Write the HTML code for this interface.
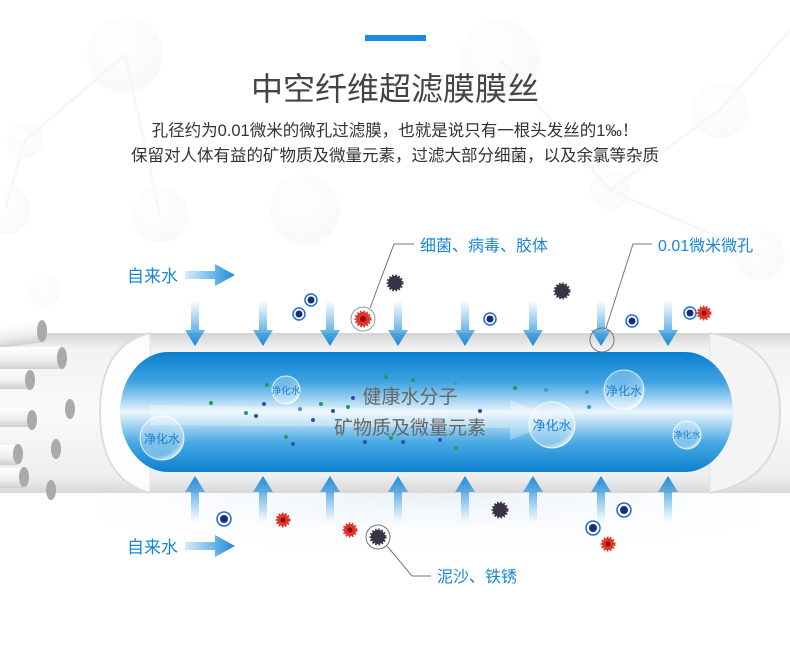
<!DOCTYPE html>
<html><head><meta charset="utf-8"><style>
html,body{margin:0;padding:0;background:#fff;}
svg{display:block;}
text{font-family:"Liberation Sans","Noto Sans CJK SC",sans-serif;}
</style></head><body>
<svg width="790" height="659" viewBox="0 0 790 659" xmlns="http://www.w3.org/2000/svg">
<defs>
<linearGradient id="band" x1="0" y1="0" x2="0" y2="1">
<stop offset="0" stop-color="#d4d4d4"/><stop offset="0.1" stop-color="#f2f2f2"/><stop offset="0.5" stop-color="#fafafa"/><stop offset="0.9" stop-color="#eeeeee"/><stop offset="1" stop-color="#d8d8d8"/>
</linearGradient>
<linearGradient id="blue" x1="0" y1="0" x2="0" y2="1">
<stop offset="0" stop-color="#0a7fcf"/><stop offset="0.25" stop-color="#3fa3e2"/><stop offset="0.5" stop-color="#eaf5fc"/><stop offset="0.75" stop-color="#4aaae4"/><stop offset="1" stop-color="#0d80cf"/>
</linearGradient>
<linearGradient id="arrD" x1="0" y1="0" x2="0" y2="1">
<stop offset="0" stop-color="#2b9be0" stop-opacity="0"/><stop offset="1" stop-color="#1a8ad8"/>
</linearGradient>
<linearGradient id="arrU" x1="0" y1="1" x2="0" y2="0">
<stop offset="0" stop-color="#2b9be0" stop-opacity="0"/><stop offset="1" stop-color="#1a8ad8"/>
</linearGradient>
<linearGradient id="arrR" x1="0" y1="0" x2="1" y2="0">
<stop offset="0" stop-color="#2b9be0" stop-opacity="0.2"/><stop offset="1" stop-color="#1a8ad8"/>
</linearGradient>
<radialGradient id="bub" cx="0.4" cy="0.35" r="0.7">
<stop offset="0" stop-color="#fff" stop-opacity="0.2"/><stop offset="0.8" stop-color="#fff" stop-opacity="0.35"/><stop offset="1" stop-color="#fff" stop-opacity="0.9"/>
</radialGradient>
<radialGradient id="bg" cx="0.4" cy="0.35" r="0.7">
<stop offset="0" stop-color="#fff"/><stop offset="1" stop-color="#ececec"/>
</radialGradient>
<linearGradient id="tubeW" x1="0" y1="0" x2="0" y2="1">
<stop offset="0" stop-color="#fff"/><stop offset="0.6" stop-color="#eee"/><stop offset="1" stop-color="#cfcfcf"/>
</linearGradient>
<radialGradient id="fade" cx="0.5" cy="0" r="0.7">
<stop offset="0" stop-color="#e8f1f8"/><stop offset="1" stop-color="#fff" stop-opacity="0"/>
</radialGradient>
</defs>

<!-- background bubbles -->
<g opacity="0.3">
<circle cx="125" cy="55" r="38" fill="url(#bg)"/>
<circle cx="25" cy="140" r="18" fill="url(#bg)"/>
<circle cx="5" cy="210" r="25" fill="url(#bg)"/>
<circle cx="160" cy="215" r="28" fill="url(#bg)"/>
<circle cx="305" cy="210" r="35" fill="url(#bg)"/>
<circle cx="500" cy="60" r="40" fill="url(#bg)"/>
<circle cx="720" cy="110" r="28" fill="url(#bg)"/>
<circle cx="610" cy="190" r="20" fill="url(#bg)"/>
<circle cx="760" cy="255" r="25" fill="url(#bg)"/>
<circle cx="45" cy="290" r="16" fill="url(#bg)"/>
<path d="M25 140 L125 55 M5 210 L25 140 M160 215 L125 55 M500 60 L610 190 M610 190 L720 110 M720 110 L790 30 M610 190 L760 255" stroke="#e8e8e8" stroke-width="3" fill="none"/>
</g>

<rect x="365" y="35" width="61" height="6" fill="#1e88e5"/>
<text x="395" y="100" font-size="32" fill="#444" text-anchor="middle">中空纤维超滤膜膜丝</text>
<text x="395" y="136" font-size="16.5" fill="#333" text-anchor="middle">孔径约为0.01微米的微孔过滤膜，也就是说只有一根头发丝的1‰！</text>
<text x="395" y="161" font-size="16.5" fill="#333" text-anchor="middle">保留对人体有益的矿物质及微量元素，过滤大部分细菌，以及余氯等杂质</text>

<!-- reflection below -->
<rect x="100" y="493" width="660" height="100" fill="url(#fade)"/>

<!-- outer band -->
<rect x="0" y="333" width="790" height="160" fill="url(#band)"/>
<path d="M150 333 Q100 345 100 412 Q100 480 150 493 Z" fill="#fff" opacity="0.85"/>
<path d="M150 333 Q100 345 100 412 Q100 480 150 493" fill="none" stroke="#ddd" stroke-width="2"/>
<path d="M710 333 Q780 345 780 412 Q780 480 710 493" fill="#f4f4f4" stroke="#ddd" stroke-width="2"/>
<line x1="150" y1="333" x2="150" y2="493" stroke="#e4e4e4"/>
<line x1="710" y1="333" x2="710" y2="493" stroke="#e4e4e4"/>
<!-- inner blue -->
<rect x="120" y="352" width="613" height="120" rx="48" ry="60" fill="url(#blue)"/>
<polygon points="150,405 510,410 510,400 560,420 510,440 510,428 150,425" fill="#fff" opacity="0.3"/>

<!-- left tubes -->
<g>
<rect x="-10" y="320" width="52" height="22" fill="url(#tubeW)" transform="rotate(-8 42 331)"/>
<ellipse cx="42" cy="331" rx="5" ry="11" fill="#aaa"/>
<rect x="-10" y="347" width="72" height="22" fill="url(#tubeW)"/><ellipse cx="62" cy="358" rx="5" ry="11" fill="#aaa"/>
<rect x="-10" y="369" width="40" height="20" fill="url(#tubeW)"/><ellipse cx="30" cy="380" rx="5" ry="10" fill="#aaa"/>
<ellipse cx="70" cy="409" rx="5" ry="10" fill="#aaa"/>
<rect x="-10" y="407" width="42" height="20" fill="url(#tubeW)"/><ellipse cx="32" cy="420" rx="5" ry="10" fill="#aaa"/>
<ellipse cx="56" cy="449" rx="5" ry="10" fill="#aaa"/>
<rect x="-10" y="445" width="28" height="20" fill="url(#tubeW)"/><ellipse cx="18" cy="454" rx="5" ry="10" fill="#aaa"/>
<rect x="-10" y="468" width="34" height="20" fill="url(#tubeW)"/><ellipse cx="24" cy="477" rx="5" ry="10" fill="#aaa"/>
<ellipse cx="51" cy="490" rx="5" ry="10" fill="#aaa"/>
</g>

<!-- arrows -->
<g fill="url(#arrD)">
<path d="M191 300h8v30h6l-10 16-10-16h6z"/>
<path d="M259 300h8v30h6l-10 16-10-16h6z"/>
<path d="M326 300h8v30h6l-10 16-10-16h6z"/>
<path d="M394 300h8v30h6l-10 16-10-16h6z"/>
<path d="M461 300h8v30h6l-10 16-10-16h6z"/>
<path d="M529 300h8v30h6l-10 16-10-16h6z"/>
<path d="M597 300h8v30h6l-10 16-10-16h6z"/>
<path d="M664 300h8v30h6l-10 16-10-16h6z"/>
</g>
<g fill="url(#arrU)">
<path d="M191 522v-30h-6l10-16 10 16h-6v30z"/>
<path d="M259 522v-30h-6l10-16 10 16h-6v30z"/>
<path d="M326 522v-30h-6l10-16 10 16h-6v30z"/>
<path d="M394 522v-30h-6l10-16 10 16h-6v30z"/>
<path d="M461 522v-30h-6l10-16 10 16h-6v30z"/>
<path d="M529 522v-30h-6l10-16 10 16h-6v30z"/>
<path d="M597 522v-30h-6l10-16 10 16h-6v30z"/>
<path d="M664 522v-30h-6l10-16 10 16h-6v30z"/>
</g>

<!-- 自来水 -->
<text x="127" y="282" font-size="17" fill="#1a86d6">自来水</text>
<path d="M185 271h30v-7l20 11-20 11v-7h-30z" fill="url(#arrR)"/>
<text x="127" y="553" font-size="17" fill="#1a86d6">自来水</text>
<path d="M185 542h30v-7l20 11-20 11v-7h-30z" fill="url(#arrR)"/>

<!-- labels/leaders -->
<text x="420" y="251" font-size="16" fill="#1a86d6">细菌、病毒、胶体</text>
<polyline points="414,244 394,244 370,308" fill="none" stroke="#777" stroke-width="1"/>
<text x="658" y="251" font-size="16" fill="#1a86d6">0.01微米微孔</text>
<polyline points="652,244 633,244 606,328" fill="none" stroke="#777" stroke-width="1"/>
<circle cx="602" cy="340" r="12" fill="none" stroke="#777" stroke-width="1"/>
<text x="437" y="582" font-size="16" fill="#1a86d6">泥沙、铁锈</text>
<polyline points="431,576 412,576 387,546" fill="none" stroke="#777" stroke-width="1"/>
<circle cx="378" cy="537" r="12" fill="none" stroke="#777" stroke-width="1"/>
<circle cx="363" cy="319" r="12" fill="none" stroke="#999" stroke-width="1"/>

<!-- dotted particles -->
<g fill="#fff" stroke="#1a6fd0" stroke-width="1.5">
<circle cx="299" cy="314" r="6"/><circle cx="311" cy="300" r="6"/><circle cx="490" cy="319" r="6"/><circle cx="632" cy="321" r="6"/><circle cx="690" cy="313" r="6"/><circle cx="224" cy="519" r="7"/><circle cx="593" cy="528" r="7"/><circle cx="624" cy="510" r="7"/>
</g>
<g fill="#1d2a7a">
<circle cx="299" cy="314" r="3.5"/><circle cx="311" cy="300" r="3.5"/><circle cx="490" cy="319" r="3.5"/><circle cx="632" cy="321" r="3.5"/><circle cx="690" cy="313" r="3.5"/><circle cx="224" cy="519" r="4"/><circle cx="593" cy="528" r="4"/><circle cx="624" cy="510" r="4"/>
</g>
<g fill="#3a3346" stroke="#3a3346" stroke-width="3" stroke-dasharray="1.5 1.5">
<circle cx="395" cy="283" r="7"/><circle cx="562" cy="291" r="7"/><circle cx="500" cy="510" r="7"/><circle cx="378" cy="537" r="7"/>
</g>
<g fill="#e0352a" stroke="#e0352a" stroke-width="3" stroke-dasharray="1.5 1.5">
<circle cx="363" cy="319" r="7"/><circle cx="704" cy="313" r="6"/><circle cx="283" cy="520" r="6"/><circle cx="350" cy="530" r="6"/><circle cx="608" cy="544" r="6"/>
</g>
<g fill="#8b0d0d"><circle cx="363" cy="319" r="3"/><circle cx="704" cy="313" r="2.5"/><circle cx="283" cy="520" r="2.5"/><circle cx="350" cy="530" r="2.5"/><circle cx="608" cy="544" r="2.5"/></g>

<!-- small dots in tube -->
<g fill="#1aa05a"><circle cx="211" cy="403" r="2"/><circle cx="246" cy="413" r="2"/><circle cx="267" cy="385" r="2"/><circle cx="321" cy="404" r="2"/><circle cx="348" cy="407" r="2"/><circle cx="386" cy="377" r="2"/><circle cx="413" cy="380" r="2"/><circle cx="391" cy="438" r="2"/><circle cx="286" cy="437" r="2"/><circle cx="456" cy="448" r="2"/><circle cx="515" cy="388" r="2"/></g>
<g fill="#2c4fb0"><circle cx="264" cy="404" r="2"/><circle cx="256" cy="416" r="2"/><circle cx="313" cy="420" r="2"/><circle cx="333" cy="411" r="2"/><circle cx="353" cy="398" r="2"/><circle cx="365" cy="442" r="2"/><circle cx="403" cy="442" r="2"/><circle cx="440" cy="440" r="2"/><circle cx="480" cy="411" r="2"/><circle cx="293" cy="444" r="2"/></g>
<g fill="#3c95dc"><circle cx="300" cy="409" r="2"/><circle cx="391" cy="378" r="2"/><circle cx="455" cy="383" r="2"/><circle cx="546" cy="390" r="2"/><circle cx="589" cy="407" r="2"/><circle cx="587" cy="392" r="2"/></g>

<text x="410" y="403" font-size="19" fill="#666" text-anchor="middle">健康水分子</text>
<text x="410" y="434" font-size="19" fill="#666" text-anchor="middle">矿物质及微量元素</text>

<g stroke="#fff" stroke-opacity="0.8" stroke-width="1">
<circle cx="162" cy="438" r="22" fill="url(#bub)"/>
<circle cx="286" cy="390" r="14" fill="url(#bub)"/>
<circle cx="552" cy="425" r="23" fill="url(#bub)"/>
<circle cx="624" cy="390" r="20" fill="url(#bub)"/>
<circle cx="687" cy="435" r="14" fill="url(#bub)"/>
</g>
<g fill="#1a7fd0" text-anchor="middle">
<text x="162" y="443" font-size="12">净化水</text>
<text x="286" y="394" font-size="9.5">净化水</text>
<text x="552" y="430" font-size="13">净化水</text>
<text x="624" y="395" font-size="12">净化水</text>
<text x="687" y="438" font-size="9">净化水</text>
</g>
</svg>
</body></html>
